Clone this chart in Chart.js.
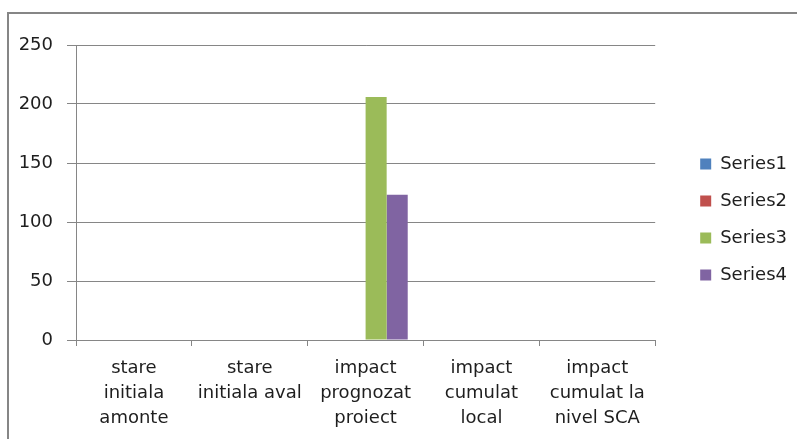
<!DOCTYPE html>
<html lang="ro">
<head>
<meta charset="utf-8">
<title>Series1 - Series4</title>
<script src="https://cdn.jsdelivr.net/npm/chart.js@4.4.1/dist/chart.umd.min.js"></script>
<style>
html, body {
  margin: 0;
  padding: 0;
  background: #ffffff;
  overflow: hidden;
}

/* chenarul graficului (iese din imagine la dreapta si jos) */
.frame {
  position: absolute;
  left: 7px;
  top: 12px;
  width: 830px;
  height: 470px;
  border-left: 2px solid #868686;
  border-top: 2px solid #868686;
}

.chart-box {
  position: absolute;
  left: 0;
  top: 0;
  width: 797px;
  height: 439px;
}
</style>
</head>
<body>
<div class="frame"></div>
<div class="chart-box"><canvas id="chart"></canvas></div>

<script>
// ==================================================
// Date
// ==================================================
const categories = [
  ['stare', 'initiala', 'amonte'],
  ['stare', 'initiala aval'],
  ['impact', 'prognozat', 'proiect'],
  ['impact', 'cumulat', 'local'],
  ['impact', 'cumulat la', 'nivel SCA']
];

const seriesNames = ['Series1', 'Series2', 'Series3', 'Series4'];
const series1 = [0, 0, 0, 0, 0];
const series2 = [0, 0, 0, 0, 0];
const series3 = [0, 0, 206, 0, 0];
const series4 = [0, 0, 123, 0, 0];

const yMin = 0;
const yMax = 250;
const yStep = 50;

// culori Excel implicite
const seriesColors = ['#4f81bd', '#c0504d', '#9bbb59', '#8064a2'];
const gridColor = '#868686';
const textColor = '#1e1e1e';

// ==================================================
// Grafic
// ==================================================
Chart.defaults.font.family = "'DejaVu Sans', sans-serif";
Chart.defaults.font.size = 18;
Chart.defaults.color = textColor;

const allSeries = [series1, series2, series3, series4];

const datasets = allSeries.map((values, i) => ({
  label: seriesNames[i],
  data: values,
  backgroundColor: seriesColors[i],
  borderWidth: 0,
  categoryPercentage: 4 / 5.5,   // gap width 150%
  barPercentage: 1
}));

new Chart(document.getElementById('chart'), {
  type: 'bar',
  data: {
    labels: categories,
    datasets: datasets
  },
  options: {
    responsive: true,
    maintainAspectRatio: false,
    animation: false,
    layout: { padding: 0 },
    scales: {
      x: {
        position: 'bottom',
        grid: {
          offset: true,
          drawOnChartArea: false,
          drawTicks: true,
          tickLength: 6,
          color: gridColor
        },
        border: { color: gridColor, width: 1 },
        ticks: {
          autoSkip: false,
          maxRotation: 0,
          minRotation: 0,
          padding: 10,
          color: textColor,
          font: { size: 18, lineHeight: '25px' }
        },
        afterFit: (scale) => { scale.height = 99; }
      },
      y: {
        position: 'left',
        min: yMin,
        max: yMax,
        grid: {
          color: gridColor,
          tickLength: 9
        },
        border: { color: gridColor, width: 1 },
        ticks: {
          stepSize: yStep,
          padding: 14,
          color: textColor,
          font: { size: 18 }
        },
        afterFit: (scale) => { scale.width = 76; }
      },
      // axe goale, doar pentru spatiere (sus si dreapta)
      xTop: {
        position: 'top',
        display: true,
        grid: { display: false },
        border: { display: false },
        ticks: { display: false },
        afterFit: (scale) => { scale.height = 45; }
      },
      yRight: {
        position: 'right',
        display: true,
        grid: { display: false },
        border: { display: false },
        ticks: { display: false },
        afterFit: (scale) => { scale.width = 26; }
      }
    },
    plugins: {
      legend: {
        position: 'right',
        align: 'center',
        labels: {
          boxWidth: 11,
          boxHeight: 11,
          padding: 19,
          color: textColor,
          font: { size: 18 }
        }
      },
      tooltip: { enabled: false }
    }
  }
});
</script>
</body>
</html>
